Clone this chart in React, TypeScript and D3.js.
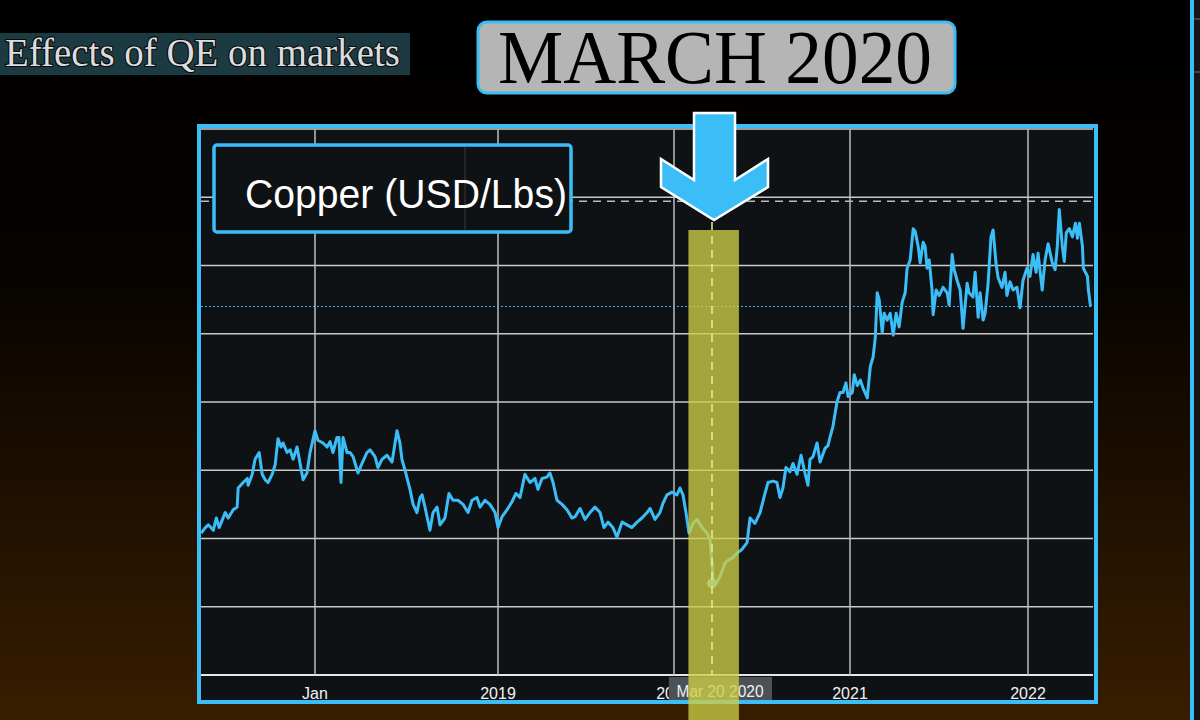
import React from "react";
import * as d3 from "d3";

// ---- data ----
const decimalYears: number[] = [
  2017.360, 2017.383, 2017.400, 2017.428, 2017.445, 2017.461, 2017.495, 2017.512, 2017.540, 2017.562,
  2017.568, 2017.596, 2017.619, 2017.624, 2017.647, 2017.663, 2017.686, 2017.703, 2017.720, 2017.736,
  2017.759, 2017.776, 2017.792, 2017.809, 2017.820, 2017.843, 2017.860, 2017.877, 2017.899, 2017.916,
  2017.933, 2017.955, 2017.972, 2018.000, 2018.016, 2018.044, 2018.066, 2018.082, 2018.098, 2018.120,
  2018.131, 2018.142, 2018.153, 2018.175, 2018.191, 2018.208, 2018.235, 2018.257, 2018.284, 2018.301,
  2018.328, 2018.344, 2018.366, 2018.393, 2018.421, 2018.448, 2018.464, 2018.475, 2018.492, 2018.519,
  2018.536, 2018.557, 2018.574, 2018.585, 2018.601, 2018.628, 2018.645, 2018.667, 2018.683, 2018.710,
  2018.732, 2018.754, 2018.781, 2018.809, 2018.836, 2018.858, 2018.885, 2018.902, 2018.929, 2018.956,
  2018.984, 2019.000, 2019.023, 2019.051, 2019.080, 2019.102, 2019.125, 2019.153, 2019.182, 2019.210,
  2019.227, 2019.250, 2019.278, 2019.295, 2019.313, 2019.335, 2019.364, 2019.392, 2019.420, 2019.438,
  2019.466, 2019.494, 2019.523, 2019.551, 2019.580, 2019.602, 2019.625, 2019.653, 2019.676, 2019.705,
  2019.733, 2019.761, 2019.790, 2019.818, 2019.847, 2019.864, 2019.892, 2019.920, 2019.938, 2019.960,
  2019.989, 2020.017, 2020.034, 2020.051, 2020.068, 2020.085, 2020.108, 2020.131, 2020.159, 2020.188,
  2020.205, 2020.216, 2020.222, 2020.233, 2020.261, 2020.290, 2020.307, 2020.335, 2020.364, 2020.386,
  2020.415, 2020.432, 2020.460, 2020.489, 2020.517, 2020.534, 2020.563, 2020.585, 2020.602, 2020.619,
  2020.636, 2020.659, 2020.676, 2020.699, 2020.722, 2020.744, 2020.761, 2020.773, 2020.790, 2020.813,
  2020.830, 2020.858, 2020.875, 2020.886, 2020.903, 2020.926, 2020.943, 2020.960, 2020.977, 2020.989,
  2021.013, 2021.024, 2021.041, 2021.058, 2021.074, 2021.097, 2021.114, 2021.130, 2021.142, 2021.153,
  2021.164, 2021.181, 2021.192, 2021.209, 2021.226, 2021.243, 2021.259, 2021.276, 2021.293, 2021.310,
  2021.321, 2021.338, 2021.355, 2021.366, 2021.383, 2021.394, 2021.411, 2021.422, 2021.433, 2021.445,
  2021.461, 2021.467, 2021.484, 2021.501, 2021.523, 2021.546, 2021.557, 2021.574, 2021.585, 2021.602,
  2021.619, 2021.635, 2021.658, 2021.669, 2021.691, 2021.703, 2021.720, 2021.731, 2021.748, 2021.759,
  2021.776, 2021.792, 2021.804, 2021.820, 2021.832, 2021.854, 2021.871, 2021.882, 2021.899, 2021.916,
  2021.938, 2021.955, 2021.972, 2021.994, 2022.011, 2022.028, 2022.045, 2022.056, 2022.079, 2022.095,
  2022.112, 2022.135, 2022.151, 2022.163, 2022.174, 2022.191, 2022.202, 2022.213, 2022.230, 2022.247,
  2022.264, 2022.275, 2022.286, 2022.303, 2022.308, 2022.331, 2022.336, 2022.348,
];

const copperPrices: number[] = [
  2.54, 2.58, 2.60, 2.56, 2.65, 2.58, 2.69, 2.65, 2.71, 2.73,
  2.87, 2.91, 2.94, 2.89, 2.97, 3.08, 3.13, 2.97, 2.93, 2.91,
  2.97, 3.04, 3.23, 3.17, 3.20, 3.13, 3.15, 3.08, 3.17, 3.05,
  2.93, 2.98, 3.13, 3.29, 3.22, 3.20, 3.17, 3.21, 3.13, 3.24,
  3.24, 2.91, 3.24, 3.13, 3.13, 3.10, 2.98, 3.05, 3.13, 3.15,
  3.10, 3.02, 3.08, 3.11, 3.06, 3.29, 3.20, 3.08, 3.00, 2.86,
  2.75, 2.69, 2.80, 2.82, 2.73, 2.56, 2.69, 2.73, 2.60, 2.65,
  2.83, 2.78, 2.78, 2.75, 2.69, 2.78, 2.80, 2.73, 2.78, 2.75,
  2.69, 2.58, 2.66, 2.71, 2.77, 2.83, 2.80, 2.97, 2.91, 2.94,
  2.86, 2.94, 2.95, 2.98, 2.91, 2.78, 2.75, 2.71, 2.65, 2.66,
  2.72, 2.64, 2.69, 2.73, 2.69, 2.58, 2.62, 2.58, 2.51, 2.62,
  2.60, 2.58, 2.62, 2.65, 2.69, 2.72, 2.64, 2.69, 2.76, 2.82,
  2.84, 2.82, 2.87, 2.82, 2.69, 2.54, 2.61, 2.64, 2.58, 2.54,
  2.49, 2.32, 2.20, 2.16, 2.22, 2.32, 2.34, 2.36, 2.40, 2.42,
  2.47, 2.65, 2.61, 2.69, 2.83, 2.91, 2.92, 2.91, 2.80, 2.87,
  3.02, 2.99, 3.05, 2.97, 3.11, 2.98, 2.89, 3.08, 3.10, 3.20,
  3.06, 3.16, 3.18, 3.24, 3.32, 3.50, 3.57, 3.57, 3.64, 3.54,
  3.57, 3.70, 3.62, 3.66, 3.60, 3.53, 3.76, 3.83, 3.97, 4.30,
  4.25, 4.01, 4.15, 4.10, 4.15, 3.99, 4.15, 4.05, 4.23, 4.30,
  4.48, 4.54, 4.77, 4.75, 4.64, 4.52, 4.67, 4.64, 4.48, 4.54,
  4.32, 4.14, 4.32, 4.28, 4.34, 4.30, 4.21, 4.58, 4.47, 4.39,
  4.32, 4.04, 4.37, 4.30, 4.27, 4.45, 4.12, 4.30, 4.10, 4.15,
  4.37, 4.71, 4.76, 4.52, 4.41, 4.34, 4.45, 4.28, 4.38, 4.32,
  4.34, 4.19, 4.39, 4.48, 4.42, 4.58, 4.45, 4.59, 4.32, 4.54,
  4.66, 4.52, 4.47, 4.64, 4.91, 4.64, 4.53, 4.74, 4.77, 4.71,
  4.81, 4.70, 4.81, 4.64, 4.48, 4.42, 4.32, 4.20,
];

const tickDates: string[] = ["2018-01-01", "2019-01-01", "2020-01-01", "2021-01-01", "2022-01-01"];
const tickLabels: string[] = ["Jan", "2019", "2020", "2021", "2022"];
const yGridValues: number[] = [1.5, 2.0, 2.5, 3.0, 3.5, 4.0, 4.5, 5.0, 5.5];
const xStart = "2017-05-12";
const xEnd = "2022-05-13";
const yDomain: number[] = [1.5, 5.5];
const highMark = 4.97;
const lastMark = 4.2;
const eventDate = "2020-03-20";
const eventLow = 2.17;
const bandDates: string[] = ["2020-01-31", "2020-05-15"];

const titleText = "Effects of QE on markets";
const headlineText = "MARCH 2020";
const legendText = "Copper (USD/Lbs)";
const eventLabel = "Mar 20 2020";

function parseDay(s: string): Date {
  const [y, m, d] = s.split("-").map(Number);
  return new Date(y, m - 1, d);
}
function fromDecimalYear(t: number): Date {
  const y = Math.floor(t);
  const a = new Date(y, 0, 1).getTime();
  const b = new Date(y + 1, 0, 1).getTime();
  return new Date(a + (t - y) * (b - a));
}

const BLUE = "#3bbef7";

export default function App() {
  const L = 201, R = 1093, T = 129, B = 675;
  // piecewise time scale (the source axis is slightly uneven between years)
  const x = d3
    .scaleTime()
    .domain([xStart, ...tickDates, xEnd].map(parseDay))
    .range([L, 315, 498, 674, 850, 1028, R]);
  const y = d3.scaleLinear().domain(yDomain).range([B, T]);

  const series = decimalYears.map((t, i) => ({ d: fromDecimalYear(t), v: copperPrices[i] }));
  const linePath = d3
    .line<{ d: Date; v: number }>()
    .x((p) => x(p.d))
    .y((p) => y(p.v))(series) as string;

  const ex = x(parseDay(eventDate));
  const b0 = x(parseDay(bandDates[0]));
  const b1 = x(parseDay(bandDates[1]));

  const arrowPts = [
    [694, 113], [735, 113], [735, 180], [768, 159], [768, 187],
    [714, 220], [661, 187], [661, 159], [694, 180],
  ].map((p) => p.join(",")).join(" ");

  return (
    <svg
      width={1200}
      height={720}
      style={{ position: "absolute", left: 0, top: 0, display: "block" }}
    >
      <defs>
        <linearGradient id="bg" x1="0" y1="0" x2="0" y2="1">
          <stop offset="0" stopColor="#000000" />
          <stop offset="0.38" stopColor="#060300" />
          <stop offset="1" stopColor="#381d00" />
        </linearGradient>
      </defs>
      <rect x={0} y={0} width={1200} height={720} fill="url(#bg)" />

      {/* right side panel edge */}
      <rect x={1194} y={0} width={6} height={720} fill="#151515" />
      <line x1={1194} x2={1200} y1={19} y2={19} stroke="#555" strokeWidth={1.5} />
      <line x1={1194} x2={1200} y1={72} y2={72} stroke="#555" strokeWidth={1.5} />
      <rect x={1190} y={0} width={4} height={720} fill={BLUE} />

      {/* plot background */}
      <rect x={199} y={126} width={897} height={576} fill="#0f1215" />

      {/* gridlines */}
      {yGridValues.map((v) => (
        <line key={"h" + v} x1={L} x2={R} y1={y(v)} y2={y(v)}
          stroke={v === yDomain[0] ? "#e6e6e6" : "#c9c9c9"} strokeWidth={v === yDomain[0] ? 2 : 1.5} />
      ))}
      {tickDates.map((t) => (
        <line key={"v" + t} x1={x(parseDay(t))} x2={x(parseDay(t))} y1={T} y2={B}
          stroke="#bdbdbd" strokeWidth={1.5} />
      ))}

      {/* reference lines */}
      <line x1={L} x2={R} y1={y(highMark)} y2={y(highMark)} stroke="#bdb8ad" strokeWidth={1.5} strokeDasharray="8 6" />
      <line x1={L} x2={R} y1={y(lastMark)} y2={y(lastMark)} stroke={BLUE} strokeWidth={1} strokeDasharray="2 2" />

      {/* price line */}
      <path d={linePath} fill="none" stroke={BLUE} strokeWidth={3} strokeLinejoin="round" />
      <circle cx={ex} cy={y(eventLow)} r={5} fill="#5fd0ff" />

      {/* x tick labels */}
      {tickDates.map((t, i) => (
        <text key={"t" + t} x={x(parseDay(t))} y={699} fill="#f2f2f2" fontSize={16}
          fontFamily="'Liberation Sans', Arial, sans-serif" textAnchor="middle">
          {tickLabels[i]}
        </text>
      ))}

      {/* event tooltip label */}
      <rect x={669} y={677} width={103} height={25} fill="#4b5257" />
      <text x={720} y={697} fill="#f0f0f0" fontSize={16} fontFamily="'Liberation Sans', Arial, sans-serif"
        textAnchor="middle" textLength={87} lengthAdjust="spacingAndGlyphs">{eventLabel}</text>

      {/* legend */}
      <rect x={214} y={145} width={357} height={87} rx={3} fill="#0f1215" stroke={BLUE} strokeWidth={3.5} />
      <line x1={465} x2={465} y1={147} y2={230} stroke="#2c2f32" strokeWidth={1.5} />
      <text x={245} y={208} fill="#ffffff" fontSize={40} fontFamily="'Liberation Sans', Arial, sans-serif"
        textLength={322} lengthAdjust="spacingAndGlyphs" stroke="#111" strokeWidth={0.6} paintOrder="stroke">
        {legendText}
      </text>

      {/* frame */}
      <rect x={199} y={126} width={897} height={576} fill="none" stroke={BLUE} strokeWidth={4} />

      {/* March 2020 highlight band */}
      <rect x={b0} y={230} width={b1 - b0} height={490} fill="rgb(205,205,70)" opacity={0.78} />
      <line x1={ex} x2={ex} y1={222} y2={B} stroke="#ecec98" strokeWidth={1.5} strokeDasharray="8 6" />

      {/* arrow */}
      <polygon points={arrowPts} fill={BLUE} stroke="#ffffff" strokeWidth={2.5} strokeLinejoin="miter" />

      {/* title */}
      <rect x={0} y={33} width={410} height={42} fill="#1b3a42" />
      <text x={5} y={66} fontSize={39} fontFamily="'Liberation Serif', 'Times New Roman', serif"
        fill="#dcdcdc" stroke="#0a0a0a" strokeWidth={2.2} paintOrder="stroke"
        textLength={395} lengthAdjust="spacingAndGlyphs">
        {titleText}
      </text>

      {/* headline */}
      <rect x={478} y={22} width={477} height={71} rx={9} fill="#b5b5b5" stroke={BLUE} strokeWidth={3} />
      <text x={498} y={83} fontSize={77} fontFamily="'Liberation Serif', 'Times New Roman', serif"
        fill="#000000" textLength={434} lengthAdjust="spacingAndGlyphs">
        {headlineText}
      </text>
    </svg>
  );
}
